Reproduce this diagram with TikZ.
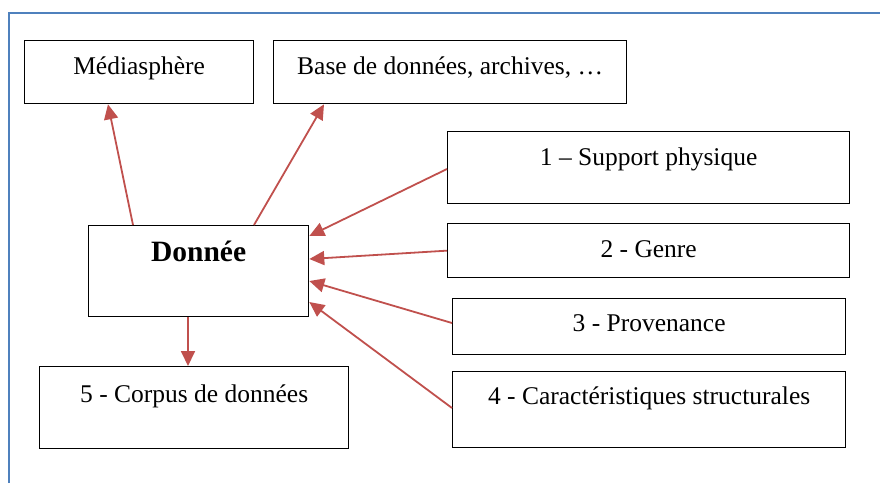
\documentclass[tikz,border=0pt]{standalone}
\usepackage{fontspec}
\setmainfont{Liberation Serif}
\newfontfamily\garfont{Liberation Serif}
\usetikzlibrary{arrows.meta,calc}
\definecolor{arrred}{HTML}{C0504D}
\definecolor{frameblue}{HTML}{4F81BD}
\tikzset{
  box/.style={draw=black, line width=1.3pt, rectangle, inner xsep=0pt, inner ysep=0pt, anchor=north west,
    font=\garfont\fontsize{25.5}{30}\selectfont, align=center},
  arr/.style={draw=arrred, line width=1.8pt, -{Triangle[length=15pt,width=14pt]}},
}
\begin{document}
\begin{tikzpicture}[x=1pt,y=-1pt]
\useasboundingbox (0,0) rectangle (880,483);
\draw[frameblue, line width=2pt] (9,483) -- (9,13) -- (880,13);
\node[box, minimum width=229pt, text height=34pt, text depth=29pt] (med) at (24,40) {Médiasphère};
\node[box, minimum width=353pt, text height=34pt, text depth=29pt] (base) at (273,40) {Base de données, archives, …};
\node[box, minimum width=402pt, text height=34pt, text depth=38pt] (b1) at (447,131) {1 – Support physique};
\node[box, minimum width=402pt, text height=34pt, text depth=20pt] (b2) at (447,223) {2 - Genre};
\node[box, minimum width=393pt, text height=33pt, text depth=23pt] (b3) at (452,298) {3 - Provenance};
\node[box, minimum width=393pt, text height=33pt, text depth=43pt] (b4) at (452,371) {4 - Caractéristiques structurales};
\node[box, minimum width=220pt, text height=36pt, text depth=55pt, font=\garfont\fontsize{29.5}{32}\selectfont\bfseries] (don) at (88,225) {Donnée};
\node[box, minimum width=309pt, text height=36pt, text depth=46pt] (corp) at (39,366) {5 - Corpus de données};
\draw[arr] ($(don.north west)+(45,0)$) -- ($(med.south west)+(84,0)$);
\draw[arr] ($(don.north west)+(166,0)$) -- ($(base.south west)+(51,0)$);
\draw[arr] ($(b1.north west)+(0,38)$) -- ($(don.north east)+(0,11)$);
\draw[arr] (b2.west) -- ($(don.north east)+(0,34)$);
\draw[arr] ($(b3.north west)+(0,25)$) -- ($(don.north east)+(0,56)$);
\draw[arr] ($(b4.north west)+(0,37)$) -- ($(don.north east)+(0,77)$);
\draw[arr] ($(don.south west)+(100,0)$) -- ($(corp.north west)+(149,0)$);
\end{tikzpicture}
\end{document}
